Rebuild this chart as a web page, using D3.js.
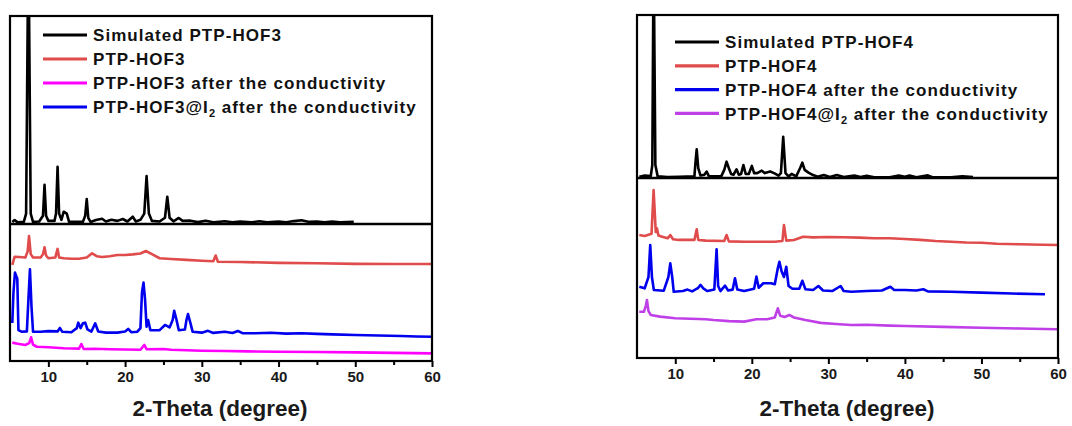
<!DOCTYPE html>
<html>
<head>
<meta charset="utf-8">
<script src="https://cdn.jsdelivr.net/npm/d3@7.9.0/dist/d3.min.js"></script>
<style>
  html, body { margin: 0; padding: 0; background: #fff; }
  svg { display: block; font-family: "Liberation Sans", Arial, sans-serif; }
  .tick text { font-size: 15px; font-weight: bold; fill: #1a1a1a; }
  .legend text { font-size: 17px; font-weight: bold; letter-spacing: 1.05px; fill: #111; }
  .xtitle { font-size: 22.5px; font-weight: bold; fill: #1a1a1a; }
</style>
</head>
<body>
<svg id="chart" width="1072" height="426"></svg>
<script>
// x axis
const xDomain = [5, 60];
const majorTicks = [10, 20, 30, 40, 50, 60];
const minorTicks = [15, 25, 35, 45, 55];
const xTitle = "2-Theta (degree)";

// PTP-HOF3 (left): legend order and traces, [2theta, intensity a.u.]
const hof3Names = [
  "Simulated PTP-HOF3",
  "PTP-HOF3",
  "PTP-HOF3 after the conductivity",
  "PTP-HOF3@I_2 after the conductivity"
];
const hof3Colors = ["#000000", "#e04b4b", "#ff00ff", "#0000ee"];

const hof3Sim = [[5.3,1],[5.6,1.9],[6.0,0.8],[6.8,1],[7.1,5],[7.4,140],[7.7,5],[8.0,1],[8.8,1.2],[9.3,4],[9.5,18.8],[9.7,4],[10.0,1.5],[10.8,1.5],[11.0,5],[11.2,27.5],[11.4,5],[11.7,2],[12.0,5.9],[12.4,5],[12.7,1],[14.5,1],[14.8,4],[15.0,12],[15.2,3],[15.5,1],[16.2,1.9],[17,2.5],[17.5,1.2],[18.2,2],[19,1.5],[19.7,2.4],[20.3,1.2],[21.0,3.5],[21.4,1.2],[22.0,2],[22.5,5],[22.8,23],[23.1,5],[23.5,1.5],[24.5,1.2],[25.2,3],[25.5,13.1],[25.8,3],[26.3,1.3],[27.0,2.9],[27.5,1.5],[28.5,1.6],[29.5,0.9],[30.5,1.6],[31.5,0.8],[33,1.3],[34,0.8],[35,1.2],[36.5,0.8],[37.5,1.3],[38.5,0.8],[40,1.2],[41,0.8],[42,1.4],[43,1.8],[44,1],[45,1.2],[46,0.8],[47,1.2],[48,0.8],[49.8,1.0]];

const hof3Exp = [[5.3,70.1],[5.6,76],[6.2,75.9],[7.0,75.5],[7.3,80],[7.48,91.2],[7.7,78],[8.0,75.5],[9.0,75.5],[9.3,78],[9.5,83],[9.7,77],[10,75],[10.9,75.5],[11.2,81.8],[11.4,75.5],[12,75],[13,74.6],[14,74.6],[15.0,75.5],[15.7,78.6],[16.3,76.5],[17,75.9],[18,76.5],[19,77.4],[20,77.4],[21,77.8],[22,78.5],[22.7,80.3],[23.5,78],[24.5,75],[26,74.5],[28,73.8],[30,73.2],[31.5,72.8],[31.8,77],[32.1,72.5],[35,72.3],[40,71.6],[45,71.3],[50,70.9],[55,70.8],[60,70.8]];

const hof3After = [[5.3,13.4],[6,12.6],[7,11.7],[7.5,13],[7.75,17.3],[8.0,12],[8.5,10.4],[10,10],[12,9.3],[14,9],[14.3,12.4],[14.6,8.8],[16,8.9],[18,8.6],[20,8.4],[22,8.2],[22.5,11.7],[22.8,8.6],[25,8.8],[26,8.2],[28,7.8],[30,7.5],[33,7.3],[36,7.0],[40,6.8],[45,6.6],[50,6.3],[55,5.9],[60,5.6]];

const hof3I2After = [[5.3,27.7],[5.45,50],[5.65,64.5],[5.95,60],[6.1,22.6],[6.5,21.4],[7.2,21.6],[7.4,45],[7.6,66.9],[7.8,40],[8.0,21.4],[9,21.4],[10,21.8],[11.2,21.6],[11.5,24.1],[11.8,21.4],[13,21],[13.7,24],[13.9,28],[14.2,24],[14.5,27.5],[14.8,28],[15.1,23],[15.6,21.4],[16.1,27.5],[16.5,21.5],[17.5,20.7],[19,20.7],[20,21.5],[20.4,23.4],[20.8,21],[21.6,21.4],[22.0,24],[22.2,50],[22.4,57.2],[22.6,45],[22.8,25],[23.0,29.9],[23.3,22.5],[24.5,22.5],[25.2,26.3],[25.8,24.5],[26.2,30],[26.4,36.7],[26.7,30],[27.0,22.5],[27.8,23],[28.0,30],[28.2,34.3],[28.5,28],[28.8,21.4],[30,20.7],[30.8,22],[31.5,20.5],[33,21.4],[34,20.5],[34.7,21.9],[35.3,20.3],[37,20.3],[39,20.6],[41,20],[43,20.3],[45,19.8],[47,19.4],[50,19],[53,18.6],[56,18.2],[58,17.9],[60,17.7]];

// PTP-HOF4 (right)
const hof4Names = [
  "Simulated PTP-HOF4",
  "PTP-HOF4",
  "PTP-HOF4 after the conductivity",
  "PTP-HOF4@I_2 after the conductivity"
];
const hof4Colors = ["#000000", "#e04b4b", "#0000ee", "#c040e8"];

const hof4Sim = [[5.3,0.8],[6.0,1.5],[6.8,1.2],[7.0,8],[7.17,140],[7.4,8],[7.7,1],[9,0.6],[10.5,0.8],[12.5,1],[12.65,10],[12.8,17.6],[13.0,6],[13.3,1.5],[13.8,2],[14.1,3.9],[14.4,1],[16.0,1],[16.4,5],[16.7,10],[17.0,6],[17.3,2.5],[17.6,2],[18.0,5.3],[18.3,2],[18.6,2.5],[18.9,8],[19.2,2.5],[19.6,2.5],[20.0,7.4],[20.3,3],[20.7,3],[21.3,4.5],[21.7,3],[22.4,4],[22.9,3],[23.5,1.5],[23.8,3],[24.1,25.3],[24.4,3],[24.8,1],[25.2,2.5],[25.8,1],[26.3,6],[26.6,9.4],[26.9,5],[27.4,3.3],[28,1.8],[28.6,0.8],[29.4,1.8],[30.2,0.6],[31.1,1.8],[32,0.6],[33.4,1.5],[34.2,0.6],[35,1.3],[36,0.5],[38,0.5],[39.2,1.5],[40,0.8],[40.6,1.5],[41.5,0.5],[43.0,1.6],[43.6,0.5],[46,0.5],[47.5,1],[48.9,0.6]];

const hof4Exp = [[5.3,68.3],[6,67.8],[6.9,69],[7.17,93.3],[7.45,70],[7.6,72.1],[7.8,68],[8.3,67.4],[9.0,66.5],[9.35,68.3],[9.7,66],[10.5,65.6],[12.5,65.6],[12.8,71.5],[13.0,65.6],[14,65.2],[16.4,65],[16.7,68.3],[17,64.8],[19,64.6],[21,64.6],[23,64.6],[24.0,65],[24.2,73.9],[24.5,65.2],[25.5,65.6],[26.7,67.4],[28,67],[30,67.2],[32,67.1],[34,66.9],[36,66.5],[38,66.5],[40,66.1],[42,65.6],[44,65],[46,64.6],[48,64.2],[50,64],[52,63.5],[55,63.2],[58,62.9],[60,62.8]];

const hof4After = [[5.3,39.6],[6.0,38.7],[6.5,45],[6.73,62.8],[6.95,45],[7.2,37.8],[8.5,37.4],[9.1,45],[9.35,52.6],[9.6,45],[9.8,36.8],[11,37.2],[11.6,38],[12.2,37],[13.0,39],[13.3,40.6],[13.7,38.5],[14.2,37.2],[15.1,38],[15.4,60.4],[15.6,40],[15.9,37.2],[16.5,40.2],[16.9,37.5],[17.5,38],[17.8,44.3],[18.1,38],[19,37.2],[20.3,38.5],[20.6,45.2],[20.9,39],[21.5,41.5],[22.5,41.5],[23.0,41],[23.4,50],[23.6,53.5],[23.9,48],[24.2,45],[24.5,50.7],[24.8,40],[25.3,38.5],[26.2,38.5],[26.6,42.9],[27,38.2],[28,37.8],[28.7,40],[29.3,37.5],[30.5,37.2],[31.6,40],[32,37.2],[33,36.8],[35,37.2],[37,37.5],[38.1,39.6],[38.6,37.8],[40,37.8],[41.5,37.5],[42.4,38.2],[43,37],[46,36.8],[50,36.3],[54,35.8],[58.3,35.4]];

const hof4I2After = [[5.3,25.7],[5.9,25.7],[6.15,29],[6.3,32.2],[6.5,26],[6.8,23.9],[8,23],[10,22.1],[12,21.8],[14,21.5],[15,21.1],[17,20.5],[19,20.2],[20.6,21.5],[22,21.5],[23,22.5],[23.4,27.6],[23.7,23.5],[24.3,22.8],[24.9,23.9],[25.5,22.5],[27,21.1],[29,19.5],[31,18.9],[33,18.3],[35,18.5],[38,18],[40,17.8],[45,17.3],[50,16.8],[55,16.4],[60,16]];

const svg = d3.select("#chart");

function drawChart(id, box, names, colors, simSeries, expSeries, legendBox, titleX) {
  const g = svg.append("g");

  const x = d3.scaleLinear().domain(xDomain).range([box.x0, box.x1]);
  const yTop = d3.scaleLinear().domain([0, 100]).range([box.mid, box.top]);
  const yBot = d3.scaleLinear().domain([0, 100]).range([box.bottom, box.mid]);

  // clip paths for the two stacked panels
  const defs = g.append("defs");
  defs.append("clipPath").attr("id", id + "-top")
    .append("rect").attr("x", box.x0).attr("y", box.top)
    .attr("width", box.x1 - box.x0).attr("height", box.mid - box.top);
  defs.append("clipPath").attr("id", id + "-bot")
    .append("rect").attr("x", box.x0).attr("y", box.mid)
    .attr("width", box.x1 - box.x0).attr("height", box.bottom - box.mid);

  const lineTop = d3.line().x(d => x(d[0])).y(d => yTop(d[1]));
  const lineBot = d3.line().x(d => x(d[0])).y(d => yBot(d[1]));

  g.append("path")
    .attr("clip-path", `url(#${id}-top)`)
    .attr("d", lineTop(simSeries))
    .attr("fill", "none")
    .attr("stroke", colors[0])
    .attr("stroke-width", 2.6)
    .attr("stroke-linejoin", "round");

  expSeries.forEach((s, i) => {
    g.append("path")
      .attr("clip-path", `url(#${id}-bot)`)
      .attr("d", lineBot(s.data))
      .attr("fill", "none")
      .attr("stroke", colors[s.colorIdx])
      .attr("stroke-width", 2.6)
      .attr("stroke-linejoin", "round");
  });

  // frame + panel divider
  g.append("rect")
    .attr("x", box.x0).attr("y", box.top)
    .attr("width", box.x1 - box.x0).attr("height", box.bottom - box.top)
    .attr("fill", "none").attr("stroke", "#000").attr("stroke-width", 2.2);
  g.append("line")
    .attr("x1", box.x0).attr("x2", box.x1)
    .attr("y1", box.mid).attr("y2", box.mid)
    .attr("stroke", "#000").attr("stroke-width", 2.4);

  // bottom axis
  const axis = g.append("g")
    .attr("transform", `translate(0,${box.bottom})`)
    .call(d3.axisBottom(x).tickValues(majorTicks).tickSize(6).tickFormat(d3.format("d")));
  axis.select(".domain").remove();
  axis.selectAll(".tick line").attr("stroke", "#000").attr("stroke-width", 2);
  axis.selectAll(".tick text").attr("y", 10);

  const minor = g.append("g")
    .attr("transform", `translate(0,${box.bottom})`)
    .call(d3.axisBottom(x).tickValues(minorTicks).tickSize(4).tickFormat(""));
  minor.select(".domain").remove();
  minor.selectAll(".tick line").attr("stroke", "#000").attr("stroke-width", 2);

  g.append("text")
    .attr("class", "xtitle")
    .attr("x", titleX).attr("y", 416)
    .attr("text-anchor", "middle")
    .text(xTitle);

  // legend
  const leg = g.append("g").attr("class", "legend");
  names.forEach((name, i) => {
    const cy = legendBox.y + i * legendBox.step;
    leg.append("line")
      .attr("x1", legendBox.x).attr("x2", legendBox.x + 44)
      .attr("y1", cy).attr("y2", cy)
      .attr("stroke", colors[i]).attr("stroke-width", 3.2);
    const t = leg.append("text")
      .attr("x", legendBox.x + 50).attr("y", cy)
      .attr("dy", "0.36em");
    const parts = name.split("_2");
    t.append("tspan").text(parts[0]);
    if (parts.length > 1) {
      t.append("tspan").attr("dy", "4").attr("font-size", "11px").text("2");
      t.append("tspan").attr("dy", "-4").text(parts[1]);
    }
  });
}

drawChart("hof3",
  { x0: 10, x1: 432, top: 16, mid: 224, bottom: 361 },
  hof3Names, hof3Colors, hof3Sim,
  [{ data: hof3Exp, colorIdx: 1 }, { data: hof3I2After, colorIdx: 3 }, { data: hof3After, colorIdx: 2 }],
  { x: 43, y: 35, step: 24 }, 220);

drawChart("hof4",
  { x0: 637, x1: 1058, top: 15, mid: 178, bottom: 358 },
  hof4Names, hof4Colors, hof4Sim,
  [{ data: hof4Exp, colorIdx: 1 }, { data: hof4After, colorIdx: 2 }, { data: hof4I2After, colorIdx: 3 }],
  { x: 675, y: 42, step: 23.8 }, 847);
</script>
</body>
</html>
